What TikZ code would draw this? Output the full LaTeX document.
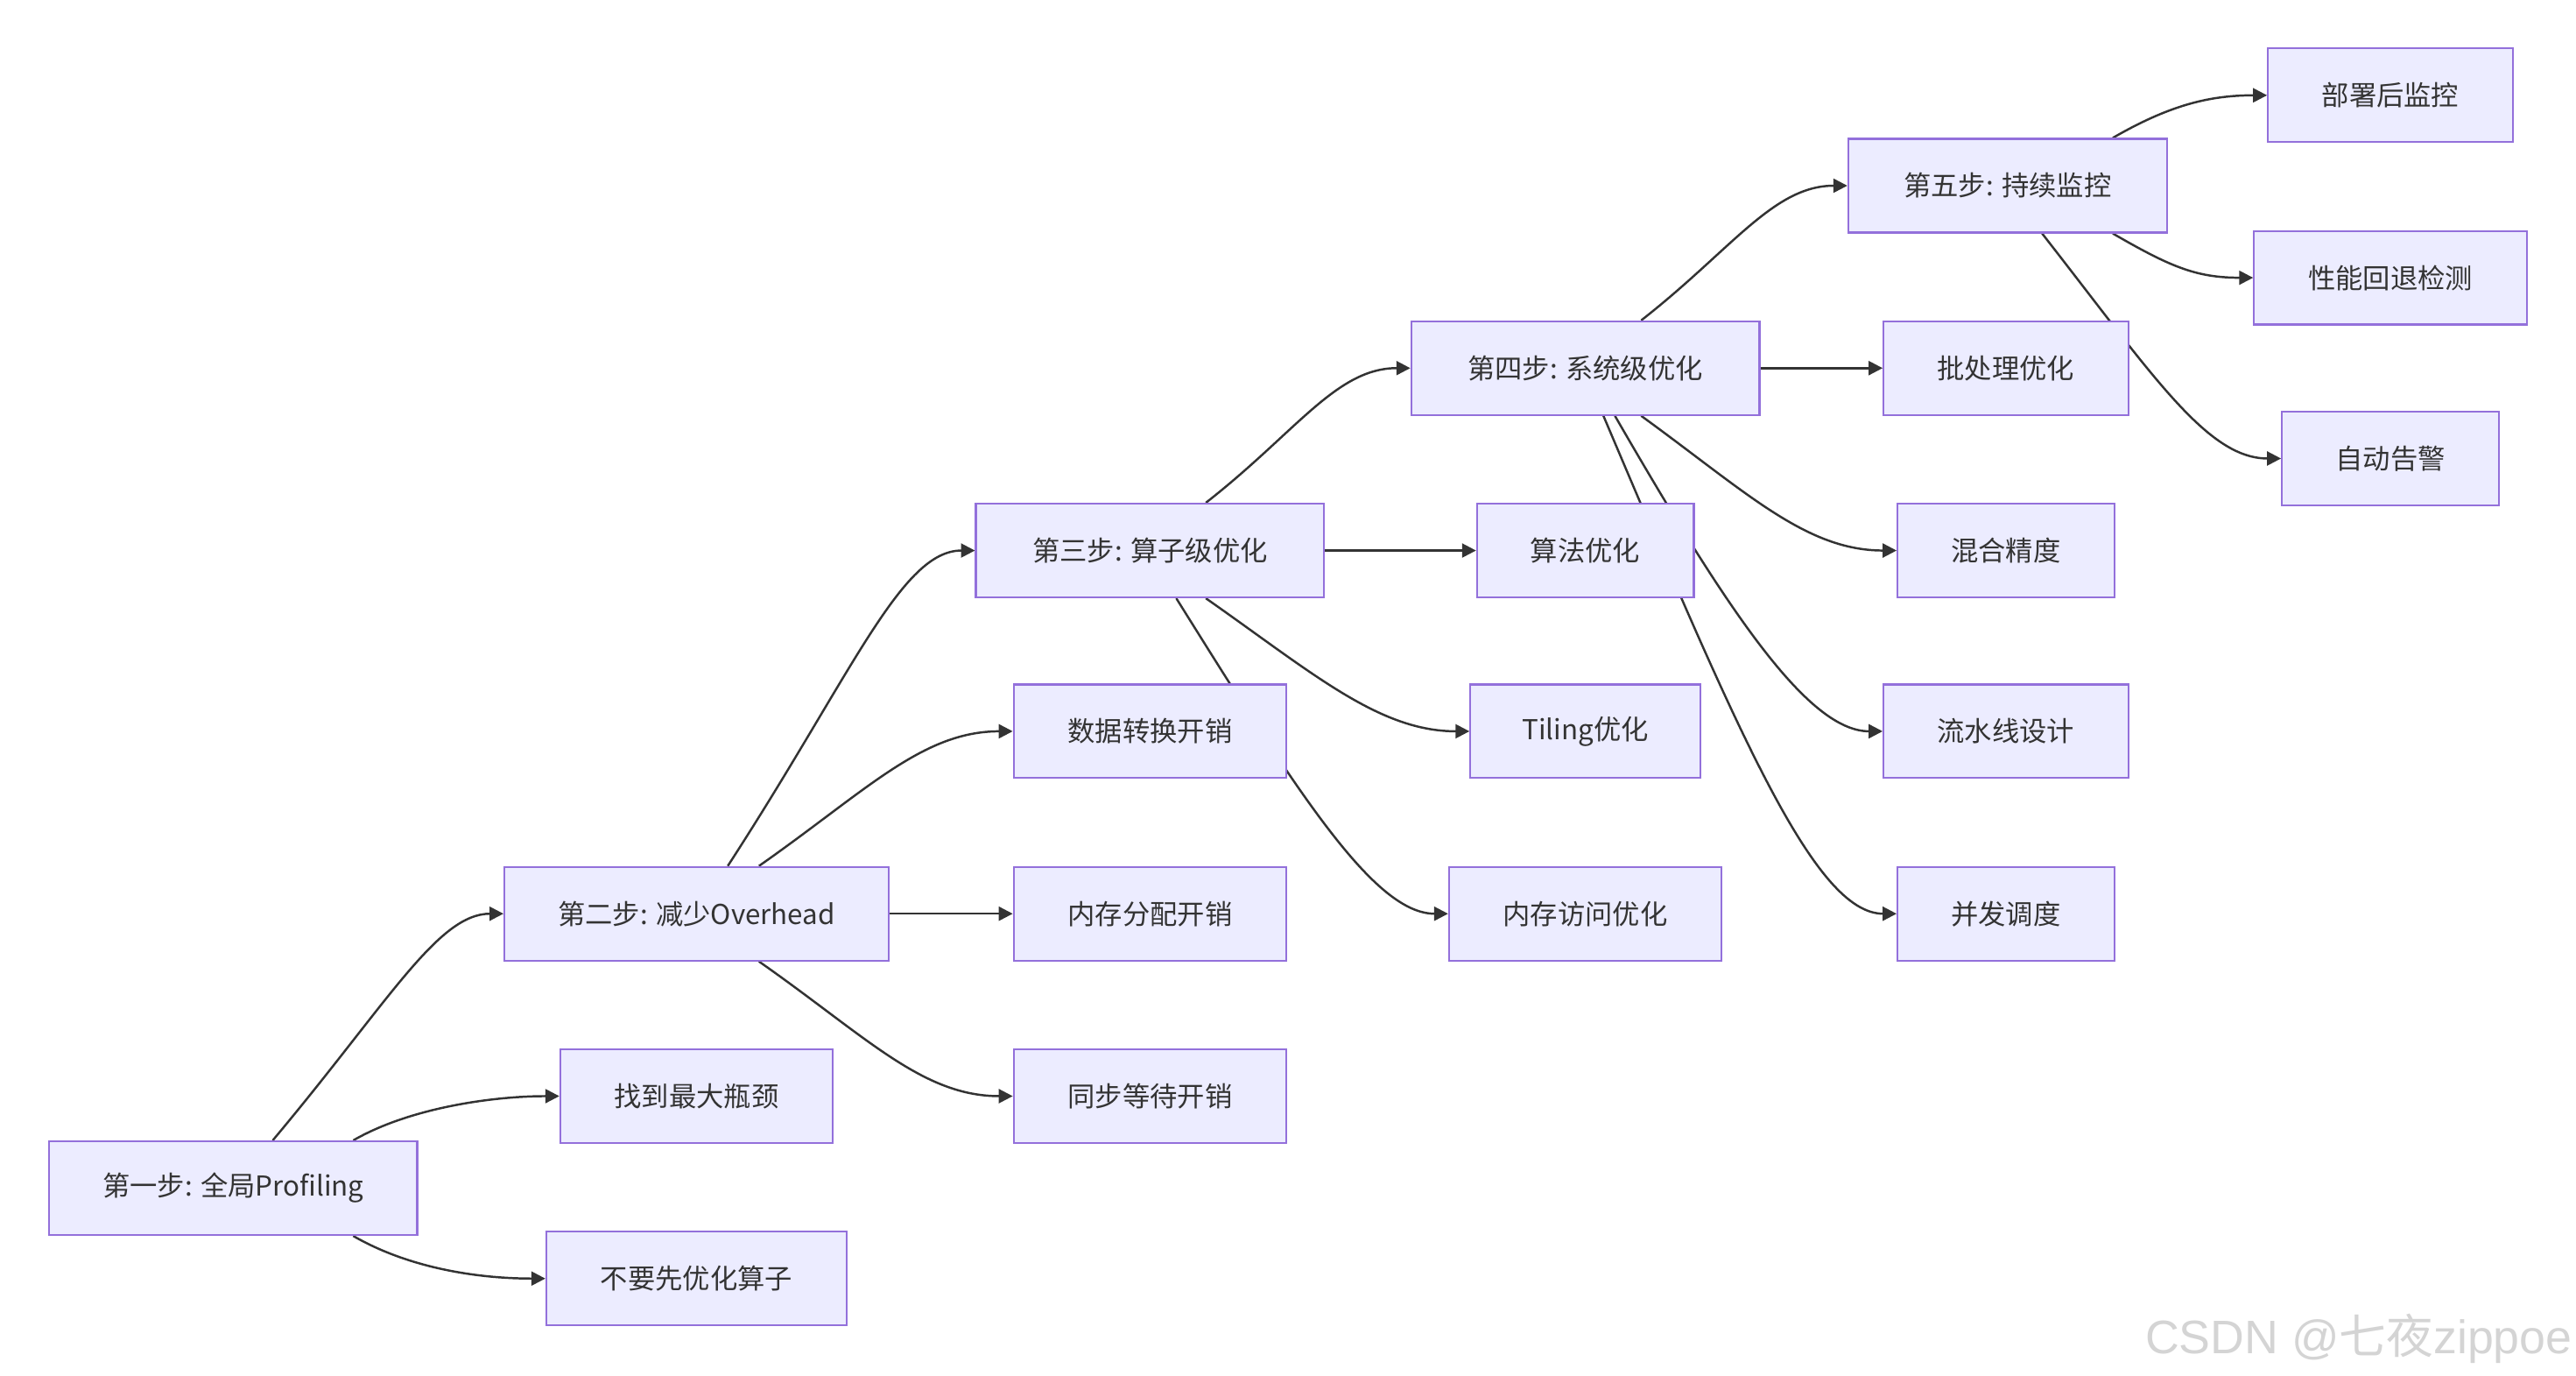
\documentclass[tikz,border=0pt]{standalone}
\usepackage{fontspec}
\setmainfont{Noto Sans CJK SC}
\newfontfamily\markfont{Liberation Sans}
\usetikzlibrary{arrows.meta,calc,backgrounds}
\definecolor{boxfill}{HTML}{ECECFF}
\definecolor{boxline}{HTML}{9370DB}
\definecolor{linkcol}{HTML}{333333}
\definecolor{markcol}{HTML}{D4D4D4}

\begin{document}
\begin{tikzpicture}[x=0.02cm,y=0.02cm,
  box/.style={draw=boxline,fill=boxfill,line width=0.65pt,minimum height=1.14cm,
    inner sep=0pt,text=linkcol,font=\fontsize{9.5pt}{11pt}\selectfont},
  link/.style={draw=linkcol,line width=0.75pt,-{Triangle[length=0.17cm,width=0.17cm]}}]
\useasboundingbox (0,0) rectangle (1568,-837.3);

% step 1
\node[box,minimum width=4.48cm] (s1) at (142,-723) {第一步: 全局Profiling};
\node[box,minimum width=3.32cm] (find) at (424,-667) {找到最大瓶颈};
\node[box,minimum width=3.66cm] (dont) at (424,-778) {不要先优化算子};
% step 2
\node[box,minimum width=4.68cm] (s2) at (424,-556) {第二步: 减少Overhead};
\node[box,minimum width=3.32cm] (conv) at (700,-445) {数据转换开销};
\node[box,minimum width=3.32cm] (alloc) at (700,-556) {内存分配开销};
\node[box,minimum width=3.32cm] (sync) at (700,-667) {同步等待开销};
% step 3
\node[box,minimum width=4.24cm] (s3) at (700,-335) {第三步: 算子级优化};
\node[box,minimum width=2.64cm] (algo) at (965,-335) {算法优化};
\node[box,minimum width=2.80cm] (tiling) at (965,-445) {Tiling优化};
\node[box,minimum width=3.32cm] (memacc) at (965,-556) {内存访问优化};
% step 4
\node[box,minimum width=4.24cm] (s4) at (965,-224) {第四步: 系统级优化};
\node[box,minimum width=2.98cm] (batch) at (1221,-224) {批处理优化};
\node[box,minimum width=2.64cm] (mixed) at (1221,-335) {混合精度};
\node[box,minimum width=2.98cm] (pipe) at (1221,-445) {流水线设计};
\node[box,minimum width=2.64cm] (conc) at (1221,-556) {并发调度};
% step 5
\node[box,minimum width=3.88cm] (s5) at (1222,-113) {第五步: 持续监控};
\node[box,minimum width=2.98cm] (deploy) at (1455,-58) {部署后监控};
\node[box,minimum width=3.32cm] (regress) at (1455,-169) {性能回退检测};
\node[box,minimum width=2.64cm] (alert) at (1455,-279) {自动告警};

\node[anchor=base east,inner sep=0pt,text=markcol,font=\fontsize{16.3pt}{18pt}\selectfont]
  (mark) at (1566,-823.5) {\markfont CSDN @\normalfont 七夜\markfont zippoe};

\begin{scope}[on background layer]
\draw[link] ($(s1.north)+(73,0)$) to[out=30,in=180,out distance=0.8cm,in distance=0.8cm] (find.west);
\draw[link] ($(s1.south)+(73,0)$) to[out=-30,in=180,out distance=0.8cm,in distance=0.8cm] (dont.west);
\draw[link] ($(s1.north)+(24,0)$) to[out=50,in=180,out distance=2.2cm,in distance=0.8cm] (s2.west);

\draw[link] ($(s2.north)+(38,0)$) to[out=35,in=180,out distance=1.6cm,in distance=1.1cm] (conv.west);
\draw[link] (s2.east) -- (alloc.west);
\draw[link] ($(s2.south)+(38,0)$) to[out=-35,in=180,out distance=1.6cm,in distance=1.1cm] (sync.west);
\draw[link] ($(s2.north)+(19,0)$) to[out=57,in=180,out distance=2.8cm,in distance=0.9cm] (s3.west);

\draw[link] (s3.east) -- (algo.west);
\draw[link] ($(s3.south)+(34,0)$) to[out=-35,in=180,out distance=1.6cm,in distance=1.1cm] (tiling.west);
\draw[link] ($(s3.south)+(16,0)$) to[out=-58,in=180,out distance=2.8cm,in distance=0.9cm] (memacc.west);
\draw[link] ($(s3.north)+(34,0)$) to[out=38,in=180,out distance=1.4cm,in distance=0.9cm] (s4.west);

\draw[link] (s4.east) -- (batch.west);
\draw[link] ($(s4.south)+(34,0)$) to[out=-36,in=180,out distance=1.6cm,in distance=1.1cm] (mixed.west);
\draw[link] ($(s4.south)+(18,0)$) to[out=-60,in=180,out distance=2.8cm,in distance=0.9cm] (pipe.west);
\draw[link] ($(s4.south)+(11,0)$) to[out=-67,in=180,out distance=4.2cm,in distance=1.0cm] (conc.west);
\draw[link] ($(s4.north)+(34,0)$) to[out=38,in=180,out distance=1.4cm,in distance=0.9cm] (s5.west);

\draw[link] ($(s5.north)+(64,0)$) to[out=30,in=180,out distance=0.8cm,in distance=0.7cm] (deploy.west);
\draw[link] ($(s5.south)+(64,0)$) to[out=-30,in=180,out distance=0.8cm,in distance=0.7cm] (regress.west);
\draw[link] ($(s5.south)+(21,0)$) to[out=-52,in=180,out distance=2.2cm,in distance=0.9cm] (alert.west);
\end{scope}
\end{tikzpicture}
\end{document}
